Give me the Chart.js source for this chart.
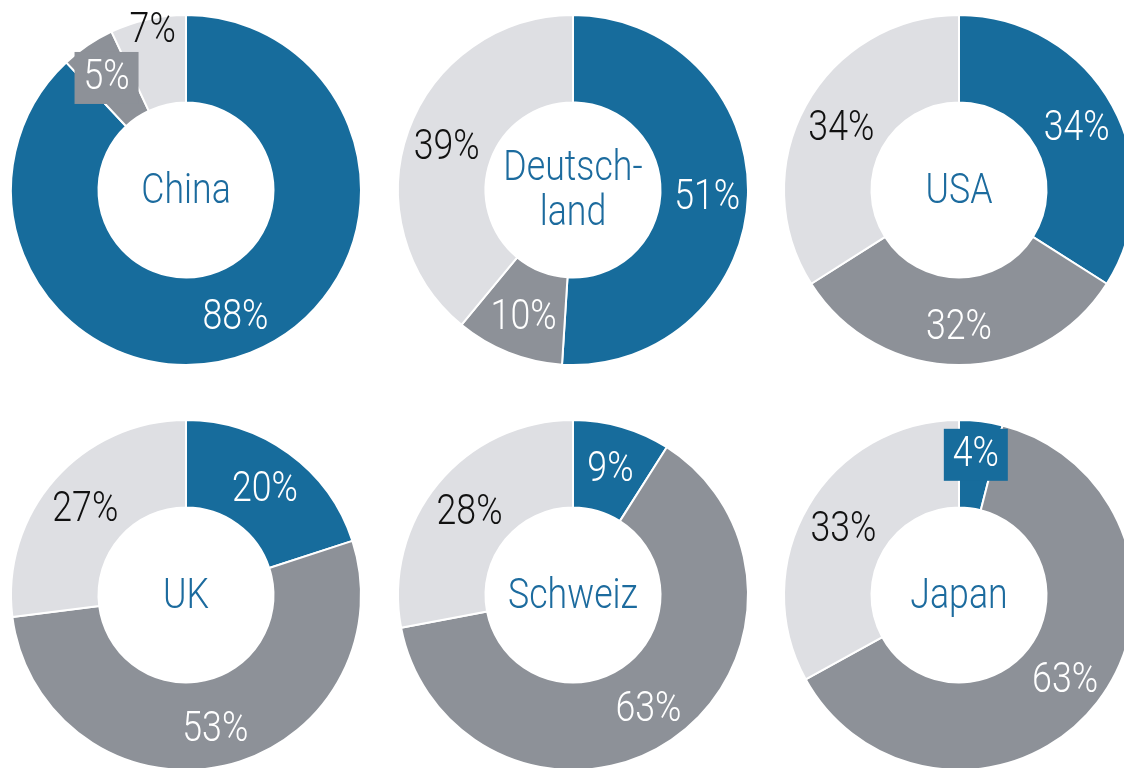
<!DOCTYPE html>
<html>
<head>
<meta charset="utf-8">
<script src="https://cdn.jsdelivr.net/npm/chart.js@4/dist/chart.umd.min.js"></script>
<style>
  html, body { margin: 0; padding: 0; background: #fff; }
  body { width: 1124px; height: 768px; position: relative; overflow: hidden; }
  .ring { position: absolute; width: 392px; height: 392px; }
</style>
</head>
<body>
<script>
// Länder und Anteile (blau, dunkelgrau, hellgrau)
const countries = ["China", "Deutsch-\nland", "USA", "UK", "Schweiz", "Japan"];
const blueShare = [88, 51, 34, 20, 9, 4];
const darkShare = [5, 10, 32, 53, 63, 63];
const lightShare = [7, 39, 34, 27, 28, 33];

const colors = ["#176c9c", "#8d9198", "#dedfe3"];
const font = "300 42px Roboto, 'Liberation Sans', sans-serif";

// Mittelpunkte der Ringe
const centers = [[186, 190], [573, 190], [959, 190], [186, 595], [573, 595], [959, 595]];

// Sonderfälle: verschobene Labels, teils mit Hintergrundbox
const tweaks = {
  "0-1": { dx: -4, dy: -4, box: "#8d9198" },
  "0-2": { dx: -4, dy: -31 },
  "5-0": { dx: 0, dy: -10, box: "#176c9c" }
};

// schmal gezogene Schrift
function narrowText(ctx, txt, x, y) {
  ctx.save();
  ctx.translate(x, y);
  ctx.scale(0.85, 1);
  ctx.fillText(txt, 0, 0);
  ctx.restore();
}

const labelPlugin = {
  id: "sliceLabels",
  afterDatasetsDraw(chart) {
    const ctx = chart.ctx;
    const meta = chart.getDatasetMeta(0);
    const idx = chart.options.plugins.sliceLabels.idx;
    ctx.save();
    ctx.font = font;
    ctx.textAlign = "center";
    ctx.textBaseline = "middle";
    meta.data.forEach((arc, i) => {
      const p = arc.getProps(["x", "y", "startAngle", "endAngle", "innerRadius", "outerRadius"], true);
      const a = (p.startAngle + p.endAngle) / 2;
      const r = (p.innerRadius + p.outerRadius) / 2 + 3;
      let x = p.x + Math.cos(a) * r;
      let y = p.y + Math.sin(a) * r + 4;
      const t = tweaks[idx + "-" + i];
      if (t) {
        x += t.dx; y += t.dy;
        if (t.box) {
          ctx.fillStyle = t.box;
          ctx.fillRect(x - 32, y - 27, 64, 52);
        }
      }
      ctx.fillStyle = i === 2 ? "#111" : "#fff";
      narrowText(ctx, chart.data.datasets[0].data[i] + "%", x, y);
    });
    // Ländername in der Mitte
    const lines = countries[idx].split("\n");
    ctx.fillStyle = "#1c6b9e";
    const cx = meta.data[0].x, cy = meta.data[0].y;
    lines.forEach((ln, k) => {
      narrowText(ctx, ln, cx, cy + 2 + (k - (lines.length - 1) / 2) * 45);
    });
    ctx.restore();
  }
};

countries.forEach((name, i) => {
  const div = document.createElement("div");
  div.className = "ring";
  div.style.left = (centers[i][0] - 196) + "px";
  div.style.top = (centers[i][1] - 196) + "px";
  const cv = document.createElement("canvas");
  div.appendChild(cv);
  document.body.appendChild(div);

  new Chart(cv, {
    type: "doughnut",
    data: {
      labels: ["blau", "dunkelgrau", "hellgrau"],
      datasets: [{
        data: [blueShare[i], darkShare[i], lightShare[i]],
        backgroundColor: colors,
        borderColor: "#fff",
        borderWidth: 2,
        hoverOffset: 0
      }]
    },
    options: {
      responsive: true,
      maintainAspectRatio: false,
      animation: false,
      cutout: "50%",
      layout: { padding: 20 },
      plugins: {
        legend: { display: false },
        tooltip: { enabled: false },
        sliceLabels: { idx: i }
      }
    },
    plugins: [labelPlugin]
  });
});
</script>
</body>
</html>
